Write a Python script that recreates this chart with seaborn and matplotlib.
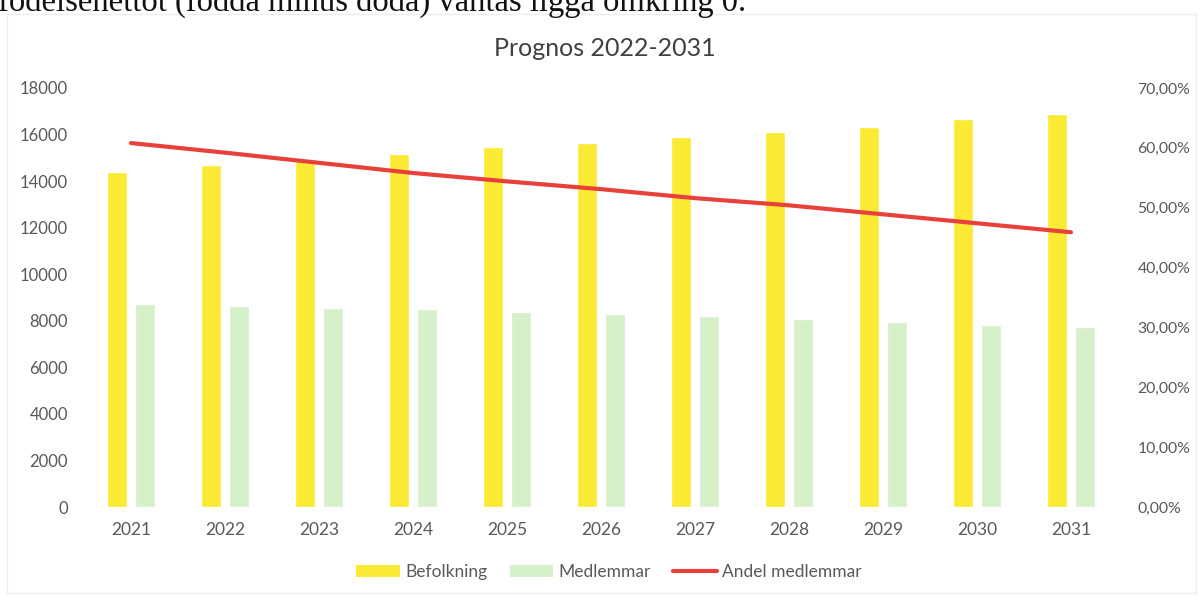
import numpy as np
import pandas as pd
import matplotlib
matplotlib.use("Agg")
import matplotlib.pyplot as plt
import matplotlib.ticker as mticker
from matplotlib.patches import Patch, Rectangle
from matplotlib.lines import Line2D
import seaborn as sns

years = ["2021", "2022", "2023", "2024", "2025", "2026", "2027", "2028", "2029", "2030", "2031"]
befolkning = [14400, 14690, 14850, 15160, 15460, 15640, 15890, 16110, 16320, 16660, 16880]
medlemmar = [8720, 8640, 8560, 8490, 8390, 8290, 8200, 8080, 7960, 7840, 7730]
andel = [0.608, 0.592, 0.575, 0.558, 0.544, 0.531, 0.516, 0.504, 0.489, 0.474, 0.459]
series_names = ["Befolkning", "Medlemmar", "Andel medlemmar"]
title = "Prognos 2022-2031"
top_text = "födelsenettot (födda minus döda) väntas ligga omkring 0."

c_yellow = "#FBEA33"
c_green = "#D6F0C9"
c_red = "#E8413C"
c_text = "#595959"

sns.set_theme(style="white")
plt.rcParams["font.family"] = ["Lato", "DejaVu Sans"]

df = pd.DataFrame({
    "year": years * 2,
    "value": befolkning + medlemmar,
    "serie": [series_names[0]] * len(years) + [series_names[1]] * len(years),
})

fig = plt.figure(figsize=(12.02, 5.96), dpi=100)
ax = fig.add_axes([84 / 1202, 1 - 507 / 596, (1118 - 84) / 1202, (507 - 88) / 596])

sns.barplot(data=df, x="year", y="value", hue="serie",
            palette=[c_yellow, c_green], width=0.58, gap=0.27,
            saturation=1, ax=ax, legend=False)
ax.set_ylim(0, 18000)
ax.set_yticks(np.arange(0, 18001, 2000))
ax.set_xlim(-0.5, len(years) - 0.5)
ax.set_xlabel("")
ax.set_ylabel("")
for s in ax.spines.values():
    s.set_visible(False)
ax.tick_params(axis="y", colors=c_text, labelsize=12, pad=11.5, length=0)
ax.tick_params(axis="x", colors=c_text, labelsize=12.5, pad=11, length=0)
ax.grid(False)

ax2 = ax.twinx()
sns.lineplot(x=np.arange(len(years)), y=andel, color=c_red, linewidth=3,
             ax=ax2, legend=False)
ax2.set_ylim(0, 0.70)
ax2.set_yticks(np.arange(0, 0.701, 0.10))
ax2.yaxis.set_major_formatter(mticker.FuncFormatter(
    lambda v, p: f"{v * 100:.2f}".replace(".", ",") + "%"))
for s in ax2.spines.values():
    s.set_visible(False)
ax2.tick_params(axis="y", colors=c_text, labelsize=11.3, pad=14, length=0)
ax2.grid(False)
ax2.set_ylabel("")
ax.set_xlim(-0.5, len(years) - 0.5)

fig.text(605 / 1202, 1 - 48 / 596, title, ha="center", va="center",
         fontsize=18, color="#404040")

handles = [Patch(facecolor=c_yellow, edgecolor="none"),
           Patch(facecolor=c_green, edgecolor="none"),
           Line2D([0], [0], color=c_red, linewidth=3)]
fig.legend(handles, series_names, loc="center", bbox_to_anchor=(609 / 1202, 1 - 572 / 596),
           ncol=3, frameon=False, fontsize=12.5, labelcolor=c_text,
           handlelength=2.5, handleheight=0.75, columnspacing=1.3, handletextpad=0.3)

fig.text(-0.002, 1 - 11 / 596, top_text, ha="left", va="baseline",
         fontsize=23.5, family=["Liberation Serif", "DejaVu Serif"], color="#111111")

fig.patches.append(Rectangle((7 / 1202, 1 - 593 / 596), (1196 - 7) / 1202, (593 - 14) / 596,
                             transform=fig.transFigure, fill=False,
                             edgecolor="#eeeeee", linewidth=1))

fig.savefig("out.png", dpi=100)
